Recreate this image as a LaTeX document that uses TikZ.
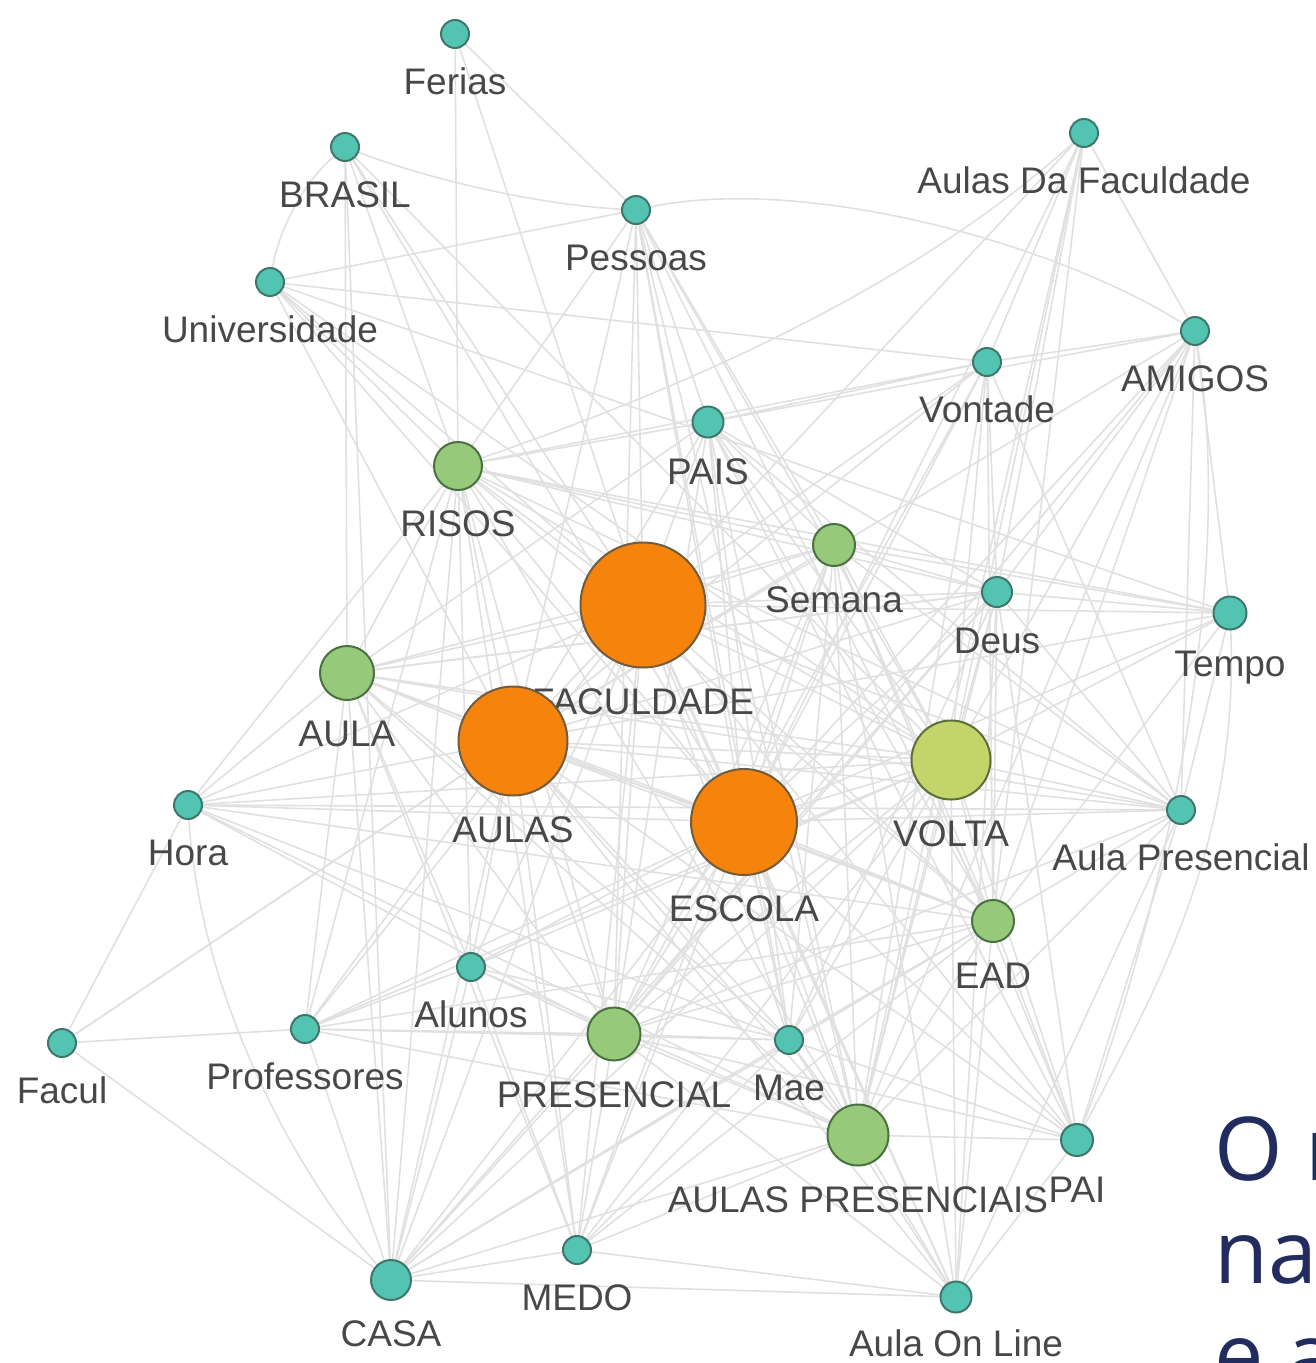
\documentclass[tikz,border=0pt]{standalone}
\usepackage{fontspec}
\setmainfont{Liberation Sans}
\newfontfamily\slidefont{Open Sans}
\usetikzlibrary{
  backgrounds,  % Predefined layer named "background"
}
\definecolor{leaffill}{RGB}{84,196,178}
\definecolor{leafrim}{RGB}{62,118,108}
\definecolor{midfill}{RGB}{151,201,122}
\definecolor{midrim}{RGB}{74,112,66}
\definecolor{limefill}{RGB}{194,212,106}
\definecolor{limerim}{RGB}{92,110,58}
\definecolor{hubfill}{RGB}{245,131,12}
\definecolor{hubrim}{RGB}{112,92,62}
\definecolor{linkgray}{RGB}{224,224,224}
\definecolor{wordgray}{RGB}{72,72,72}
\definecolor{slidenavy}{RGB}{35,44,94}
\tikzset{
  label distance=19pt,
  every label/.style={
    font=\fontsize{37}{44}\selectfont,
    text=wordgray,
    inner sep=0pt,
    text height=27.5pt,
    text depth=0pt
  },
  my word/.style={
    circle,
    line width=2pt,
    inner sep=0pt,
    outer sep=0pt
  },
  my leaf/.style={my word, fill=leaffill, draw=leafrim, minimum size=#1},
  my leaf/.default=28pt,
  my mid/.style={my word, fill=midfill, draw=midrim, minimum size=#1},
  my lime/.style={my word, fill=limefill, draw=limerim, minimum size=#1},
  my hub/.style={my word, fill=hubfill, draw=hubrim, minimum size=#1},
  my link/.style={
    draw=linkgray,
    line width=1.6pt
  },
  my slide/.style={
    anchor=base west,
    inner sep=0pt,
    text=slidenavy,
    font=\slidefont\fontsize{88}{103}\selectfont
  }
}

\begin{document}
\begin{tikzpicture}[x=1pt,y=1pt]
\useasboundingbox (0,0) rectangle (1315,-1363);

\node[my leaf, label=below:Ferias]             (fer)   at (455,-34)    {};
\node[my leaf, label=below:BRASIL]             (bra)   at (345,-147)   {};
\node[my leaf, label=below:Pessoas]            (pes)   at (636,-210)   {};
\node[my leaf, label=below:Universidade]       (uni)   at (270,-282)   {};
\node[my leaf, label=below:Aulas Da Faculdade] (adf)   at (1084,-133)  {};
\node[my leaf, label=below:AMIGOS]             (ami)   at (1195,-331)  {};
\node[my leaf, label=below:Vontade]            (von)   at (987,-362)   {};
\node[my leaf=31pt, label=below:PAIS]          (pais)  at (708,-422)   {};
\node[my mid=48pt, label=below:RISOS]          (ris)   at (458,-466)   {};
\node[my mid=42pt, label=below:Semana]         (sem)   at (834,-545)   {};
\node[my hub=125pt, label=below:FACULDADE]     (fac)   at (643,-605)   {};
\node[my leaf=30pt, label=below:Deus]          (deu)   at (997,-592)   {};
\node[my leaf=33pt, label=below:Tempo]         (tem)   at (1230,-613)  {};
\node[my mid=54pt, label=below:AULA]           (aula)  at (347,-673)   {};
\node[my hub=109pt, label=below:AULAS]         (aulas) at (513,-741)   {};
\node[my lime=79pt, label=below:VOLTA]         (vol)   at (951,-760)   {};
\node[my leaf, label=below:Hora]               (hor)   at (188,-805)   {};
\node[my hub=106pt, label=below:ESCOLA]        (esc)   at (744,-822)   {};
\node[my leaf, label=below:Aula Presencial]    (apr)   at (1181,-810)  {};
\node[my mid=42pt, label=below:EAD]            (ead)   at (993,-921)   {};
\node[my leaf, label=below:Alunos]             (alu)   at (471,-967)   {};
\node[my leaf, label=below:Facul]              (fcl)   at (62,-1043)   {};
\node[my leaf, label=below:Professores]        (pro)   at (305,-1029)  {};
\node[my mid=53pt, label=below:PRESENCIAL]     (pre)   at (614,-1034)  {};
\node[my leaf, label=below:Mae]                (mae)   at (789,-1040)  {};
\node[my mid=61pt, label=below:AULAS PRESENCIAIS] (aps) at (858,-1135) {};
\node[my leaf=32pt, label=below:PAI]           (pai)   at (1077,-1140) {};
\node[my leaf=40pt, label=below:CASA]          (cas)   at (391,-1280)  {};
\node[my leaf, label=below:MEDO]               (med)   at (577,-1250)  {};
\node[my leaf=31pt, label={[label distance=16pt]below:Aula On Line}] (aol) at (956,-1297) {};

\begin{scope}[on background layer]
\path[every edge/.style={my link}]
  (fer)   edge (ris) edge (pes) edge (fac)
  (bra)   edge (aula) edge (ris) edge (fac) edge (esc) edge (cas) edge (vol)
  (uni)   edge (pes) edge (von) edge (tem) edge (ris) edge (aulas) edge (fac) edge (vol) edge (esc)
  (pes)   edge (pais) edge (ris) edge (fac) edge (aulas) edge (esc) edge (aps)
          edge (pre) edge (vol) edge (ead) edge (sem) edge (mae)
  (adf)   edge (ami) edge (von) edge (deu) edge (fac) edge (esc) edge (aps) edge (vol) edge (ead)
  (ami)   edge (von) edge (pais) edge (tem) edge (apr) edge (deu) edge (vol) edge (esc)
          edge (aulas) edge (ead) edge (aps) edge (pre)
  (von)   edge (pais) edge (deu) edge (ead) edge (fac) edge (aulas) edge (vol) edge (aps)
          edge (ris) edge (esc) edge (pre) edge (apr)
  (pais)  edge (fac) edge (ris) edge (sem) edge (aulas) edge (esc) edge (mae) edge (pai)
          edge (deu) edge (apr) edge (aula) edge (vol) edge (ead) edge (pre) edge (aps)
  (ris)   edge (fac) edge (aulas) edge (aula) edge (sem) edge (esc) edge (vol) edge (pre)
          edge (alu) edge (pro) edge (deu) edge (apr) edge (hor) edge (tem) edge (med)
          edge (ead) edge (aps) edge (cas)
  (sem)   edge (fac) edge (deu) edge (tem) edge (aulas) edge (esc) edge (vol) edge (aps)
          edge (pre) edge (ead) edge (aol) edge (aula) edge (pai) edge (mae) edge (med) edge (apr)
  (fac)   edge (deu) edge (tem) edge (aulas) edge (esc) edge (vol) edge (aula) edge (hor)
          edge (apr) edge (pre) edge (mae) edge (aps) edge (ead) edge (cas) edge (pro)
          edge (alu) edge (pai) edge (med) edge (aol)
  (deu)   edge (tem) edge (aulas) edge (esc) edge (vol) edge (ead) edge (apr) edge (aps)
          edge (pai) edge (aol) edge (pre) edge (aula) edge (mae) edge (cas)
  (tem)   edge (vol) edge (apr) edge (esc) edge (aulas) edge (ead)
  (aula)  edge (aulas) edge (esc) edge (vol) edge (hor) edge (pro) edge (pre) edge (cas)
          edge (aps) edge (alu) edge (mae) edge (apr) edge (ead) edge (med) edge (deu)
  (aulas) edge (esc) edge (vol) edge (hor) edge (pre) edge (pro) edge (alu) edge (mae)
          edge (aps) edge (pai) edge (cas) edge (med) edge (fcl) edge (ead) edge (apr) edge (aol)
  (vol)   edge (esc) edge (hor) edge (apr) edge (ead) edge (pre) edge (aps) edge (pai)
          edge (mae) edge (cas) edge (aol) edge (med) edge (pro) edge (alu)
  (esc)   edge (hor) edge (apr) edge (ead) edge (pre) edge (mae) edge (aps) edge (pai)
          edge (cas) edge (med) edge (aol) edge (pro) edge (alu)
  (apr)   edge (ead) edge (pai) edge (aps) edge (pre) edge (aol) edge (hor)
  (ead)   edge (pre) edge (mae) edge (aps) edge (pai) edge (aol) edge (cas) edge (hor)
          edge (med) edge (pro)
  (hor)   edge (fcl) edge (pre) edge (aps) edge (mae)
  (alu)   edge (pre) edge (pro) edge (mae) edge (aps) edge (cas) edge (med)
  (fcl)   edge (pro) edge (cas) edge (aulas)
  (pro)   edge (pre) edge (cas) edge (mae) edge (aps)
  (pre)   edge (mae) edge (aps) edge (cas) edge (med) edge (pai) edge (aol)
  (mae)   edge (aps) edge (cas) edge (pai) edge (med) edge (aol)
  (aps)   edge (pai) edge (aol) edge (cas) edge (med)
  (pai)   edge (aol)
  (cas)   edge (med) edge (aol)
  (med)   edge (aol);
% the gently curved ones
\draw[my link] (bra) .. controls (300,-185) and (278,-235) .. (uni);
\draw[my link] (bra) .. controls (430,-180) and (540,-205) .. (pes);
\draw[my link] (pes) .. controls (800,-175) and (1050,-240) .. (ami);
\draw[my link] (adf) .. controls (900,-300) and (650,-400) .. (ris);
\draw[my link] (ami) .. controls (1240,-600) and (1150,-950) .. (pai);
\draw[my link] (tem) .. controls (1240,-850) and (1150,-1000) .. (pai);
\draw[my link] (hor) .. controls (200,-1000) and (300,-1180) .. (cas);
\end{scope}

% slide text running off the right edge
\begin{scope}
  \clip (0,0) rectangle (1315,-1363);
  \node[my slide] (slide1) at (1214,-1180) {O r};
  \node[my slide] (slide2) at (1214,-1283) {na};
  \node[my slide] (slide3) at (1214,-1386) {e a};
\end{scope}
\end{tikzpicture}
\end{document}
